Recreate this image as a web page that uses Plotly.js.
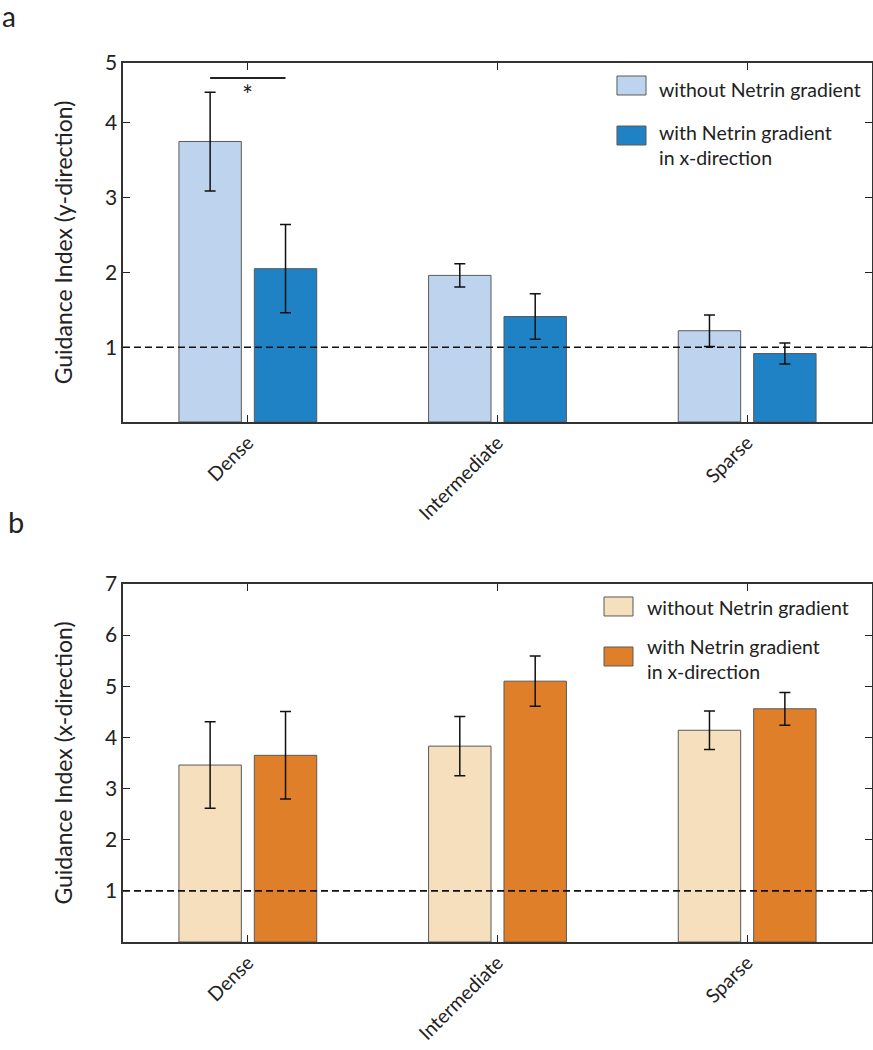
<!DOCTYPE html>
<html>
<head>
<meta charset="utf-8">
<script src="https://cdn.plot.ly/plotly-3.0.1.min.js"></script>
<style>
  html, body { margin: 0; padding: 0; background: #fff; }
  #chart { width: 873px; height: 1050px; }
</style>
</head>
<body>
<div id="chart"></div>
<script>
// ---- data ----
const categories = ['Dense', 'Intermediate', 'Sparse'];
const seriesNames = ['without Netrin gradient', 'with Netrin gradient<br>in x-direction'];

// panel a: Guidance Index (y-direction)
const yWithout = [3.75, 1.96, 1.22];
const yWithoutErr = [0.66, 0.155, 0.21];
const yWith = [2.05, 1.41, 0.915];
const yWithErr = [0.59, 0.305, 0.14];

// panel b: Guidance Index (x-direction)
const xWithout = [3.46, 3.83, 4.14];
const xWithoutErr = [0.845, 0.58, 0.375];
const xWith = [3.65, 5.10, 4.56];
const xWithErr = [0.855, 0.49, 0.32];

const yTickVals = [1, 2, 3, 4, 4.8];
const yTickText = ['1', '2', '3', '4', '5'];
const xTickVals2 = [1, 2, 3, 4, 5, 6, 7];

const sigLevel = 4.6;   // significance bracket (panel a, Dense)
const sigLabel = '*';
const refLevel = 1;     // dashed reference line

// ---- styles ----
const FONT = 'Lato, "Open Sans", sans-serif';
const colors = {
  aLight: '#BED4EE', aDark: '#1F82C4',
  bLight: '#F5DFBD', bDark: '#DF7F2A'
};
const pos = categories.map((c, i) => i + 1);
const BW = 0.25, OFF_L = -0.276, OFF_R = 0.026;

function barTrace(y, err, color, off, xa, ya, name) {
  return {
    type: 'bar', x: pos, y: y, name: name,
    xaxis: xa, yaxis: ya,
    width: BW, offset: off,
    marker: { color: color, line: { color: '#5a5a5a', width: 1 } },
    error_y: { type: 'data', array: err, visible: true, color: '#111', thickness: 1.5, width: 5.5 },
    showlegend: false, hoverinfo: 'x+y'
  };
}

const data = [
  barTrace(yWithout, yWithoutErr, colors.aLight, OFF_L, 'x', 'y', seriesNames[0]),
  barTrace(yWith, yWithErr, colors.aDark, OFF_R, 'x', 'y', seriesNames[1]),
  barTrace(xWithout, xWithoutErr, colors.bLight, OFF_L, 'x2', 'y2', seriesNames[0]),
  barTrace(xWith, xWithErr, colors.bDark, OFF_R, 'x2', 'y2', seriesNames[1])
];

const axisCommon = {
  showline: true, linecolor: '#333', linewidth: 1.6, mirror: 'ticks',
  ticks: 'inside', ticklen: 7, tickwidth: 1.2, tickcolor: '#222',
  showgrid: false, zeroline: false,
  tickfont: { family: FONT, size: 21, color: '#222' }
};

const xCommon = {
  domain: [0, 1], range: [0.5, 3.5],
  tickvals: pos, ticktext: categories, tickangle: -45,
  tickfont: { family: FONT, size: 19.5, color: '#222' }
};

const topDomain = [0.5916, 1];
const botDomain = [0, 0.4073];
const yTitleFont = { family: FONT, size: 23, color: '#222' };

const layout = {
  width: 873, height: 1050,
  margin: { l: 123, r: 1, t: 63, b: 108 },
  paper_bgcolor: '#fff', plot_bgcolor: '#fff',
  barmode: 'overlay',
  font: { family: FONT, color: '#222' },
  xaxis: Object.assign({}, axisCommon, xCommon, { anchor: 'y' }),
  yaxis: Object.assign({}, axisCommon, {
    domain: topDomain, anchor: 'x', range: [0, 4.8],
    tickvals: yTickVals, ticktext: yTickText,
    title: { text: 'Guidance Index (y-direction)', font: yTitleFont, standoff: 26 }
  }),
  xaxis2: Object.assign({}, axisCommon, xCommon, { anchor: 'y2' }),
  yaxis2: Object.assign({}, axisCommon, {
    domain: botDomain, anchor: 'x2', range: [0, 7],
    tickvals: xTickVals2,
    ticktext: xTickVals2.map(v => String(v)),
    title: { text: 'Guidance Index (x-direction)', font: yTitleFont, standoff: 26 }
  }),
  shapes: [],
  annotations: []
};

// dashed reference lines
[['x', 'y'], ['x2', 'y2']].forEach(([xa, ya]) => {
  layout.shapes.push({
    type: 'line', xref: xa + ' domain', yref: ya,
    x0: 0, x1: 1, y0: refLevel, y1: refLevel,
    line: { color: '#111', width: 1.6, dash: '7px,4px' }
  });
});

// significance bracket (between centers of Dense bars)
layout.shapes.push({
  type: 'line', xref: 'x', yref: 'y',
  x0: pos[0] + OFF_L + BW / 2, x1: pos[0] + OFF_R + BW / 2,
  y0: sigLevel, y1: sigLevel,
  line: { color: '#222', width: 2 }
});
layout.annotations.push({
  xref: 'x', yref: 'y', x: pos[0], y: sigLevel, yshift: -17,
  text: sigLabel, showarrow: false,
  font: { family: FONT, size: 26, color: '#222' }
});

// legends (drawn as swatches + text)
function legend(x0, x1, ys, textX, textYs, cLight, cDark) {
  [cLight, cDark].forEach((c, k) => {
    layout.shapes.push({
      type: 'rect', xref: 'paper', yref: 'paper',
      x0: x0, x1: x1, y0: ys[k][0], y1: ys[k][1],
      fillcolor: c, line: { color: '#5a5a5a', width: 1 }
    });
    layout.annotations.push({
      xref: 'paper', yref: 'paper', x: textX, y: textYs[k],
      xanchor: 'left', yanchor: 'middle', align: 'left',
      text: seriesNames[k], showarrow: false,
      font: { family: FONT, size: 19.5, color: '#222' }
    });
  });
}
legend(0.6595, 0.6983, [[0.9636, 0.9852], [0.9067, 0.9283]], 0.7129, [0.9693, 0.9067], colors.aLight, colors.aDark);
legend(0.6422, 0.6809, [[0.3709, 0.3925], [0.3140, 0.3356]], 0.6969, [0.3800, 0.3214], colors.bLight, colors.bDark);

// panel letters
layout.annotations.push({
  xref: 'paper', yref: 'paper', x: -0.164, y: 1.053, xanchor: 'left', yanchor: 'middle',
  text: 'a', showarrow: false, font: { family: FONT, size: 28, color: '#222' }
});
layout.annotations.push({
  xref: 'paper', yref: 'paper', x: -0.156, y: 0.478, xanchor: 'left', yanchor: 'middle',
  text: 'b', showarrow: false, font: { family: FONT, size: 29, color: '#222' }
});

Plotly.newPlot('chart', data, layout, { displayModeBar: false, staticPlot: true });
</script>
</body>
</html>
